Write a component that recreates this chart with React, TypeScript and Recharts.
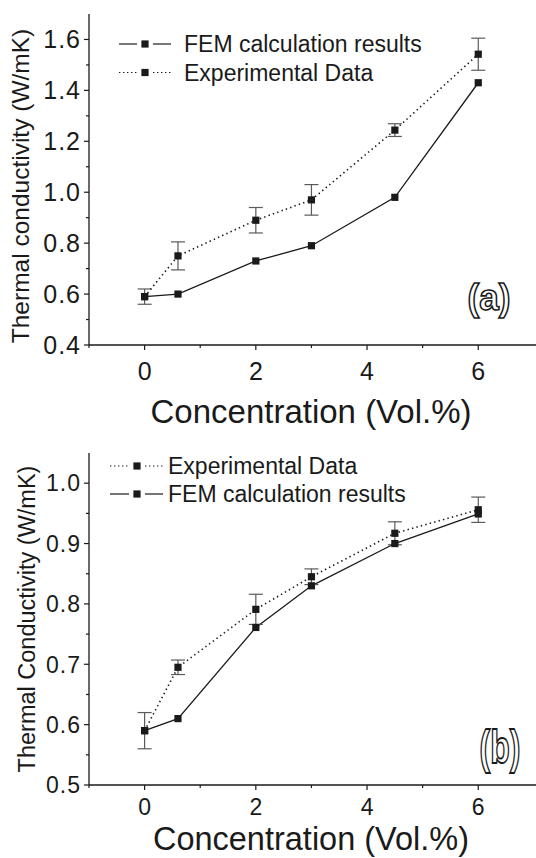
import { LineChart, Line, XAxis, YAxis, ErrorBar } from "recharts";

const INK = "#1a1a1a";
const BAR = "#5a5a5a";
const FONT = '"Liberation Sans", Arial, Helvetica, sans-serif';

// concentrations (Vol.%)
const conc = [0, 0.6, 2, 3, 4.5, 6];

// panel (a)
const femA = [0.59, 0.6, 0.73, 0.79, 0.98, 1.43];
const expA = [0.59, 0.75, 0.89, 0.97, 1.244, 1.542];
const errA = [0.03, 0.055, 0.05, 0.06, 0.025, 0.063];

// panel (b)
const femB = [0.59, 0.61, 0.761, 0.83, 0.9, 0.949];
const expB = [0.59, 0.695, 0.791, 0.845, 0.917, 0.956];
const errB = [0.03, 0.012, 0.025, 0.013, 0.019, 0.021];

const xTicks = [-1, 0, 1, 2, 3, 4, 5, 6];
const xMajor = [0, 2, 4, 6];
const yTicksA = [0.4, 0.5, 0.6, 0.7, 0.8, 0.9, 1.0, 1.1, 1.2, 1.3, 1.4, 1.5, 1.6];
const yMajorA = [0.4, 0.6, 0.8, 1.0, 1.2, 1.4, 1.6];
const yTicksB = [0.5, 0.55, 0.6, 0.65, 0.7, 0.75, 0.8, 0.85, 0.9, 0.95, 1.0];
const yMajorB = [0.5, 0.6, 0.7, 0.8, 0.9, 1.0];

const dataA = conc.map((c, i) => ({ c, fem: femA[i], exp: expA[i], err: errA[i] }));
const dataB = conc.map((c, i) => ({ c, fem: femB[i], exp: expB[i], err: errB[i] }));

const TICK = 5;
const GAP = 4;
const isIn = (list: number[], v: number) => list.some((m) => Math.abs(m - v) < 1e-6);

function makeYTick(major: number[], size: number) {
  return (p: any) => {
    const v = p.payload.value;
    const big = isIn(major, v);
    const ax = p.x + TICK + GAP;
    return (
      <g>
        <line x1={ax} x2={ax - (big ? 5 : 3)} y1={p.y} y2={p.y} stroke={INK} strokeWidth={1.2} />
        {big && (
          <text x={ax - 8} y={p.y} dy="0.36em" textAnchor="end" fontSize={size} fill={INK} fontFamily={FONT} letterSpacing={1}>
            {v.toFixed(1)}
          </text>
        )}
      </g>
    );
  };
}

function makeXTick(size: number, drop: number) {
  return (p: any) => {
    const v = p.payload.value;
    const big = isIn(xMajor, v);
    const ay = p.y - TICK - GAP;
    return (
      <g>
        <line x1={p.x} x2={p.x} y1={ay} y2={ay + (big ? 5 : 3)} stroke={INK} strokeWidth={1.2} />
        {big && (
          <text x={p.x} y={ay + drop} textAnchor="middle" fontSize={size} fill={INK} fontFamily={FONT}>
            {v}
          </text>
        )}
      </g>
    );
  };
}

const Square = (p: any) => {
  if (p.cx == null || p.cy == null) return <g key={p.index} />;
  return <rect key={p.index} x={p.cx - 3.6} y={p.cy - 3.6} width={7.2} height={7.2} fill={INK} />;
};

function Panel({ data, yDomain, yTicks, yMajor, tickSize, drop, height, top, plotH }: any) {
  return (
    <LineChart width={552} height={height} data={data} margin={{ top, right: 7, left: 0, bottom: 0 }}>
      <XAxis
        type="number"
        dataKey="c"
        domain={[-1, 7.2]}
        ticks={xTicks}
        interval={0}
        tickSize={TICK}
        tickMargin={GAP}
        tickLine={false}
        tick={makeXTick(tickSize, drop)}
        axisLine={{ stroke: INK, strokeWidth: 1.3 }}
        height={height - top - plotH}
      />
      <XAxis xAxisId="top" orientation="top" type="number" domain={[-1, 7.2]} tick={false} tickLine={false} height={0} axisLine={{ stroke: INK, strokeWidth: 1.3 }} />
      <YAxis
        type="number"
        domain={yDomain}
        ticks={yTicks}
        interval={0}
        width={89}
        tickSize={TICK}
        tickMargin={GAP}
        tickLine={false}
        tick={makeYTick(yMajor, tickSize)}
        axisLine={{ stroke: INK, strokeWidth: 1.3 }}
        allowDataOverflow
      />
      <Line type="linear" dataKey="fem" stroke={INK} strokeWidth={1.3} dot={Square} activeDot={false} isAnimationActive={false} />
      <Line type="linear" dataKey="exp" stroke={INK} strokeWidth={1.6} strokeDasharray="1.4 3.2" dot={Square} activeDot={false} isAnimationActive={false}>
        <ErrorBar dataKey="err" direction="y" width={7} stroke={BAR} strokeWidth={1.2} />
      </Line>
    </LineChart>
  );
}

function LegendRow({ y, x0, mid, x1, text, tx, dotted }: any) {
  const dash = dotted ? "1.4 2.6" : undefined;
  return (
    <g>
      <line x1={x0} x2={mid - 8} y1={y} y2={y} stroke={INK} strokeWidth={1.2} strokeDasharray={dash} />
      <line x1={mid + 8} x2={x1} y1={y} y2={y} stroke={INK} strokeWidth={1.2} strokeDasharray={dash} />
      <rect x={mid - 3.6} y={y - 3.6} width={7.2} height={7.2} fill={INK} />
      <text x={tx} y={y + 8} fontSize={23} fill={INK} fontFamily={FONT}>
        {text}
      </text>
    </g>
  );
}

export default function App() {
  return (
    <div style={{ position: "absolute", left: 0, top: 0, width: 536, height: 858, overflow: "hidden", background: "#fff" }}>
      <div style={{ position: "absolute", left: 0, top: 0 }}>
        <Panel data={dataA} yDomain={[0.4, 1.7]} yTicks={yTicksA} yMajor={yMajorA} tickSize={25} drop={35} height={430} top={14} plotH={331} />
      </div>
      <div style={{ position: "absolute", left: 0, top: 430 }}>
        <Panel data={dataB} yDomain={[0.5, 1.05]} yTicks={yTicksB} yMajor={yMajorB} tickSize={23} drop={30} height={428} top={23} plotH={332} />
      </div>
      <svg width={536} height={858} style={{ position: "absolute", left: 0, top: 0, pointerEvents: "none" }}>
        <LegendRow y={44} x0={119} mid={145} x1={171} tx={184} text="FEM calculation results" />
        <LegendRow y={72.5} x0={119} mid={145} x1={171} tx={184} text="Experimental Data" dotted />
        <LegendRow y={466} x0={110} mid={137} x1={163} tx={168} text="Experimental Data" dotted />
        <LegendRow y={494} x0={110} mid={137} x1={163} tx={168} text="FEM calculation results" />

        <text transform="translate(29,186) rotate(-90)" textAnchor="middle" fontSize={24.5} fill={INK} fontFamily={FONT}>
          Thermal conductivity (W/mK)
        </text>
        <text transform="translate(35,619) rotate(-90)" textAnchor="middle" fontSize={23.5} fill={INK} fontFamily={FONT}>
          Thermal Conductivity (W/mK)
        </text>
        <text x={311} y={423} textAnchor="middle" fontSize={33} fill={INK} fontFamily={FONT}>
          Concentration (Vol.%)
        </text>
        <text x={311} y={850} textAnchor="middle" fontSize={32.5} fill={INK} fontFamily={FONT}>
          Concentration (Vol.%)
        </text>

        <text transform="translate(489,310) scale(0.95,1)" textAnchor="middle" fontSize={37} fontWeight="bold" fill="#fff" stroke={INK} strokeWidth={1.6} fontFamily={FONT}>
          (a)
        </text>
        <text transform="translate(500,763) scale(0.68,1)" textAnchor="middle" fontSize={47} fontWeight="bold" fill="#fff" stroke={INK} strokeWidth={1.8} fontFamily={FONT}>
          (b)
        </text>
      </svg>
    </div>
  );
}
